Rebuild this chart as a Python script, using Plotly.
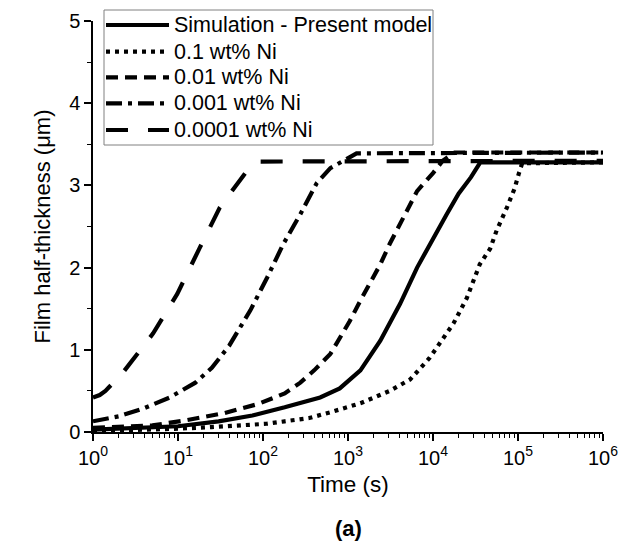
import plotly.graph_objects as go

# ---------------- data ----------------
sim_t = [1, 10, 30, 75, 180, 350, 470, 800, 1400, 2400, 4100, 6500, 10000, 14500, 20000, 28000, 36000, 1e6]
sim_y = [0.03, 0.07, 0.13, 0.20, 0.30, 0.38, 0.42, 0.53, 0.75, 1.11, 1.56, 2.00, 2.36, 2.65, 2.90, 3.10, 3.28, 3.28]

ni01_t = [1, 3, 10, 25, 60, 110, 180, 350, 620, 1400, 3100, 5400, 9100, 12000, 17400, 25000, 35500, 47000, 56000, 74000, 91000, 102000, 112000, 1e6]
ni01_y = [0.01, 0.02, 0.04, 0.06, 0.09, 0.10, 0.13, 0.17, 0.24, 0.35, 0.50, 0.64, 0.90, 1.07, 1.32, 1.63, 2.04, 2.23, 2.45, 2.73, 2.96, 3.14, 3.27, 3.28]

ni001_t = [1, 5, 12, 35, 87, 180, 275, 400, 620, 1050, 1400, 1800, 2400, 3100, 4100, 5400, 6500, 10000, 13000, 18000, 1e6]
ni001_y = [0.05, 0.08, 0.14, 0.23, 0.34, 0.47, 0.60, 0.75, 0.95, 1.35, 1.60, 1.80, 2.04, 2.29, 2.53, 2.77, 2.93, 3.15, 3.30, 3.40, 3.40]

ni0001_t = [1, 2, 4, 8, 16, 25, 40, 71, 112, 174, 275, 430, 620, 800, 1000, 1260, 1e6]
ni0001_y = [0.13, 0.19, 0.29, 0.42, 0.60, 0.78, 1.05, 1.48, 1.88, 2.29, 2.65, 3.03, 3.21, 3.28, 3.34, 3.39, 3.40]

ni00001_t = [1, 1.2, 1.4, 2.2, 5.1, 9.8, 18, 31, 65, 91, 1e6]
ni00001_y = [0.42, 0.45, 0.50, 0.71, 1.20, 1.68, 2.24, 2.73, 3.18, 3.29, 3.30]

names = ["Simulation - Present model", "0.1 wt% Ni", "0.01 wt% Ni", "0.001 wt% Ni", "0.0001 wt% Ni"]
dashes = ["solid", "4px,5px", "12px,7px", "16px,6px,4px,6px", "22px,20px"]
series = [(sim_t, sim_y), (ni01_t, ni01_y), (ni001_t, ni001_y), (ni0001_t, ni0001_y), (ni00001_t, ni00001_y)]

x_tickvals = [1, 10, 100, 1e3, 1e4, 1e5, 1e6]
x_ticktext = ["10<sup>%d</sup>" % i for i in range(7)]

FONT = "Liberation Sans, Arial, sans-serif"

fig = go.Figure()
for (t, y), name, dash in zip(series, names, dashes):
    fig.add_trace(go.Scatter(x=t, y=y, mode="lines", name=name,
                             line=dict(color="black", width=4.2, dash=dash)))

# plot area geometry (pixels) used to place the hand-drawn legend box
W, H = 620, 543
ML, MR, MT, MB = 93, 17, 21, 111
PW, PH = W - ML - MR, H - MT - MB

def px_x(p):
    return (p - ML) / PW

def px_y(p):
    return (H - MB - p) / PH

fig.update_layout(
    width=W, height=H,
    margin=dict(l=ML, r=MR, t=MT, b=MB, autoexpand=False),
    paper_bgcolor="white", plot_bgcolor="white",
    font=dict(family=FONT, color="black", size=20),
    showlegend=False,
)

# legend: box, sample lines, labels
legend_rows = [25, 51.7, 77.3, 103.3, 130]
fig.add_shape(type="rect", xref="paper", yref="paper",
              x0=px_x(104), x1=px_x(433), y0=px_y(145), y1=px_y(10),
              line=dict(color="#808080", width=1), fillcolor="white", layer="above")
for row, name, dash in zip(legend_rows, names, dashes):
    fig.add_shape(type="line", xref="paper", yref="paper",
                  x0=px_x(106), x1=px_x(169), y0=px_y(row), y1=px_y(row),
                  line=dict(color="black", width=4.2, dash=dash), layer="above")
    fig.add_annotation(text=name, xref="paper", yref="paper",
                       x=px_x(172), y=px_y(row), xanchor="left", yanchor="middle",
                       showarrow=False, font=dict(size=21.5, family=FONT, color="black"))

fig.update_xaxes(
    type="log", range=[0, 6], tickvals=x_tickvals, ticktext=x_ticktext,
    automargin=False,
    showgrid=False, zeroline=False,
    showline=True, linecolor="black", linewidth=1.5,
    ticks="outside", ticklen=7, tickwidth=1.5, tickcolor="black",
    tickfont=dict(size=20, family=FONT),
    minor=dict(ticks="outside", ticklen=4, tickwidth=1.2, tickcolor="black", dtick="D1", showgrid=False),
    title=dict(text="Time (s)", font=dict(size=22.5, family=FONT), standoff=8),
)
fig.update_yaxes(
    range=[0, 5], dtick=1,
    automargin=False,
    showgrid=False, zeroline=False,
    showline=True, linecolor="black", linewidth=1.5,
    ticks="outside", ticklen=7, tickwidth=1.5, tickcolor="black",
    tickfont=dict(size=20, family=FONT),
    minor=dict(ticks="outside", ticklen=4, tickwidth=1.2, tickcolor="black", dtick=0.5, showgrid=False),
    title=dict(text="Film half-thickness (μm)", font=dict(size=22, family=FONT), standoff=12),
)

fig.add_annotation(text="<b>(a)</b>", xref="paper", yref="paper", x=0.5, y=px_y(528),
                   xanchor="center", yanchor="middle", showarrow=False,
                   font=dict(size=22, family=FONT, color="black"))

fig.write_html("out.html")
